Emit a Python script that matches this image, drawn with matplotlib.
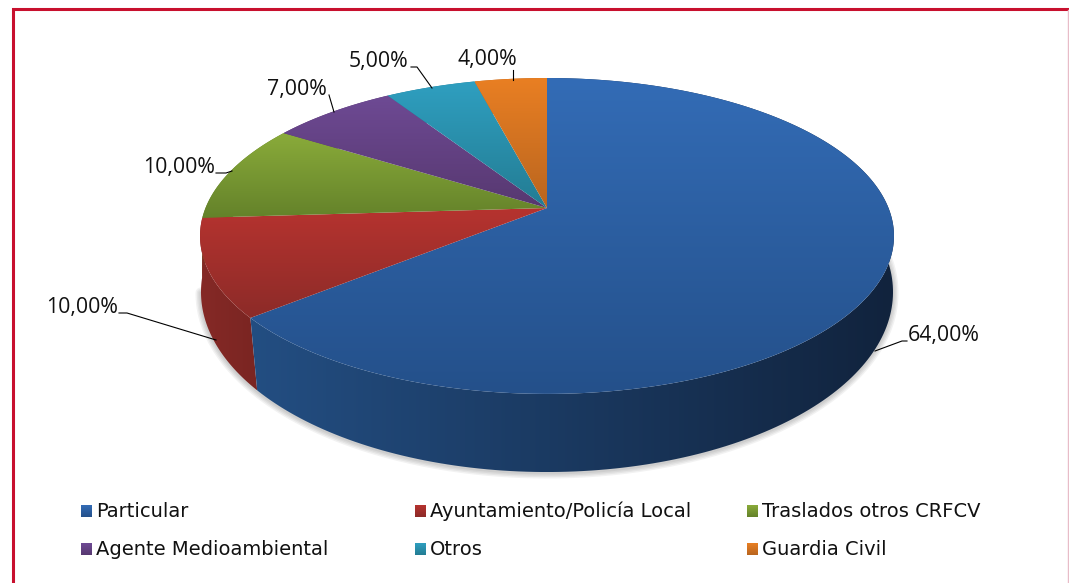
import numpy as np
import matplotlib
matplotlib.use('Agg')
import matplotlib.pyplot as plt
from matplotlib.colors import to_rgb
from matplotlib.patches import Polygon

categories = ['Particular', 'Ayuntamiento/Policía Local', 'Traslados otros CRFCV',
              'Agente Medioambiental', 'Otros', 'Guardia Civil']
values = [64.0, 10.0, 10.0, 7.0, 5.0, 4.0]

# colours: top face (upper, lower), side wall (left, right)
top_hi = ['#336CB6', '#B6332F', '#8AAB3A', '#6E4A94', '#2F9FC0', '#E97F23']
top_lo = ['#24508A', '#8C2B28', '#64822A', '#573870', '#237C93', '#B9651F']
side_l = ['#234E82', '#852926', '#64822A', '#573870', '#237C93', '#B9651F']
side_r = ['#11233D', '#7A2522', '#64822A', '#573870', '#237C93', '#B9651F']

# where the labels sit, pixels: text centre, then the leader line
label_xy = [(944, 335), (82, 307), (179, 167), (297, 89), (379, 61), (487, 59)]
leaders = [[(875, 351), (902, 341), (907, 341)],
           [(216, 340), (127, 313), (119, 313)],
           [(232, 171), (226, 173), (216, 173)],
           [(334, 112), (329, 95)],
           [(432, 88), (417, 67), (411, 67)],
           [(513, 80), (513, 70)]]
legend_x = [81, 415, 747]
legend_y = [511, 549]

# perspective of the disc: top face and bottom face
cx = 547
top_disc = dict(A=341.5, B=153.0, y0=208.0, k=0.177)
bot_disc = dict(A=342.6, B=176.5, y0=266.8, k=0.14)


def project(theta, d):
    u = np.sin(theta)
    v = -np.cos(theta)
    w = 1 - d['k'] * v
    return cx + d['A'] * u / w, d['y0'] + d['B'] * v / w


def gradient(ax, c1, c2, extent, vertical=True, clip=None):
    t = np.linspace(0, 1, 200)[:, None]
    rgb = (1 - t) * np.array(to_rgb(c1)) + t * np.array(to_rgb(c2))
    img = rgb[:, None, :] if vertical else rgb[None, :, :]
    im = ax.imshow(img, extent=extent, aspect='auto', origin='upper',
                   interpolation='bilinear', zorder=2)
    if clip is not None:
        p = Polygon(clip, closed=True, transform=ax.transData)
        im.set_clip_path(p)
    return im


fig = plt.figure(figsize=(10.69, 5.83), dpi=100)
ax = fig.add_axes([0, 0, 1, 1])

# soft shadow under the wall
th = np.radians(np.linspace(65, 262, 300))
sx, sy = project(th, bot_disc)
for lw in [8, 6, 4, 2]:
    ax.plot(sx, sy + 1, color='black', lw=lw, alpha=0.05, zorder=1,
            solid_capstyle='round')

edges = np.cumsum([0] + values) / sum(values) * 2 * np.pi

# walls, then the top faces over them
for i in reversed(range(len(values))):
    th = np.linspace(edges[i], edges[i + 1], 200)
    tx, ty = project(th, top_disc)
    bx, by = project(th, bot_disc)
    pts = np.r_[np.c_[tx, ty], np.c_[bx, by][::-1]]
    x0, x1 = pts[:, 0].min(), pts[:, 0].max()
    # theta runs right to left along the front, so colours go by x
    gradient(ax, side_l[i], side_r[i], (x0, x1, pts[:, 1].max(), pts[:, 1].min()),
             vertical=False, clip=pts)

for i in range(len(values)):
    th = np.linspace(edges[i], edges[i + 1], 300)
    tx, ty = project(th, top_disc)
    pts = np.r_[[(cx, top_disc['y0'])], np.c_[tx, ty]]
    gradient(ax, top_hi[i], top_lo[i],
             (pts[:, 0].min(), pts[:, 0].max(), pts[:, 1].max(), pts[:, 1].min()),
             clip=pts)

# labels and leader lines
for v, xy, line in zip(values, label_xy, leaders):
    txt = f'{v:.2f}%'.replace('.', ',')
    ax.text(xy[0], xy[1], txt, ha='center', va='center', fontsize=15.3,
            family='Open Sans', color='#111111', zorder=4)
    xs, ys = zip(*line)
    ax.plot(xs, ys, color='black', lw=0.8, zorder=3)

# legend
for i, name in enumerate(categories):
    x = legend_x[i % 3]
    y = legend_y[i // 3]
    gradient(ax, top_hi[i], top_lo[i], (x, x + 11, y + 6, y - 6))
    ax.text(x + 15, y + 6, name, ha='left', va='baseline', fontsize=14,
            family='DejaVu Sans', color='#111111', zorder=4)

# page frame
ax.plot([13, 13, 1069], [583, 9, 9], color='#C8102E', lw=2.2, zorder=5,
        solid_joinstyle='miter')
ax.plot([1068, 1068], [10, 583], color='#E8BCC8', lw=1, zorder=5)

ax.set_xlim(0, 1069)
ax.set_ylim(583, 0)
ax.axis('off')
fig.savefig('out.png', dpi=100)
